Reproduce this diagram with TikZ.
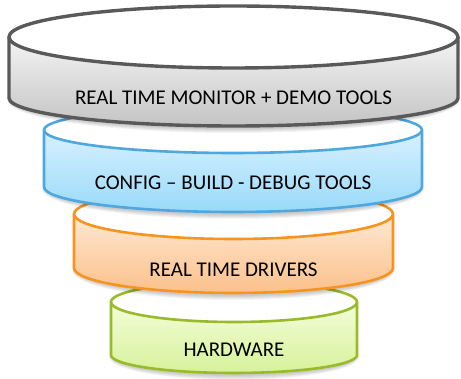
\documentclass[tikz,border=0pt]{standalone}
\usepackage{fontspec}
\setmainfont{Carlito}
\definecolor{grayline}{HTML}{595959}
\definecolor{graytop}{HTML}{F4F4F4}
\definecolor{graybot}{HTML}{C4C4C4}
\definecolor{blueline}{HTML}{4EA7DE}
\definecolor{bluetop}{HTML}{D9F1FE}
\definecolor{bluebot}{HTML}{98DAF9}
\definecolor{orangeline}{HTML}{F7941E}
\definecolor{orangetop}{HTML}{FEE9D4}
\definecolor{orangebot}{HTML}{FBC08A}
\definecolor{greenline}{HTML}{99BB2A}
\definecolor{greentop}{HTML}{F4FDDA}
\definecolor{greenbot}{HTML}{D6F29A}
\tikzset{
  layerline/.style={line width=#1, line join=round},
  label/.style={font=\fontsize{21}{24}\selectfont, text=black, inner sep=0pt},
}
% #1 centre x, #2 x radius, #3 top ellipse y, #4 top y radius,
% #5 bottom ellipse y, #6 bottom y radius, #7 colour prefix, #8 line width, #9 node name
\newcommand\drumlayer[9]{%
  % soft shadow under the drum
  \foreach \k in {1,...,5}{
    \fill[black, opacity=0.045] (#1pt, #5pt-2pt) ellipse [x radius=#2pt-3pt+\k pt, y radius=#6pt+\k pt];
  }
  % side wall
  \shade[top color=#7top, bottom color=#7bot]
    (#1pt-#2pt, #3pt) -- (#1pt-#2pt, #5pt)
    arc[start angle=180, end angle=360, x radius=#2pt, y radius=#6pt]
    -- (#1pt+#2pt, #3pt)
    arc[start angle=0, end angle=-180, x radius=#2pt, y radius=#4pt] -- cycle;
  \draw[#7line, layerline=#8]
    (#1pt-#2pt, #3pt) -- (#1pt-#2pt, #5pt)
    arc[start angle=180, end angle=360, x radius=#2pt, y radius=#6pt]
    -- (#1pt+#2pt, #3pt);
  % open top
  \draw[#7line, layerline=#8, fill=white] (#1pt, #3pt) ellipse [x radius=#2pt, y radius=#4pt];
  \coordinate (#9) at (#1pt, #5pt);
}
\begin{document}
\begin{tikzpicture}[x=1pt, y=1pt]
  \useasboundingbox (0,0) rectangle (461,379);
  % drawn from the bottom layer upwards
  \drumlayer{234}{123}{77}{20}{24}{18}{green}{2.6pt}{hw}
  \node[label] at (234,29) {HARDWARE};
  \drumlayer{233.5}{159.5}{165}{25}{111}{25}{orange}{2.6pt}{drv}
  \node[label] at (233.5,109) {REAL TIME DRIVERS};
  \drumlayer{233}{189}{249}{23}{192}{25}{blue}{2.6pt}{cfg}
  \node[label] at (233,196) {CONFIG – BUILD - DEBUG TOOLS};
  \drumlayer{233.5}{224.5}{342}{31}{281}{28}{gray}{3.4pt}{mon}
  \node[label] at (233.5,281) {REAL TIME MONITOR + DEMO TOOLS};
\end{tikzpicture}
\end{document}
